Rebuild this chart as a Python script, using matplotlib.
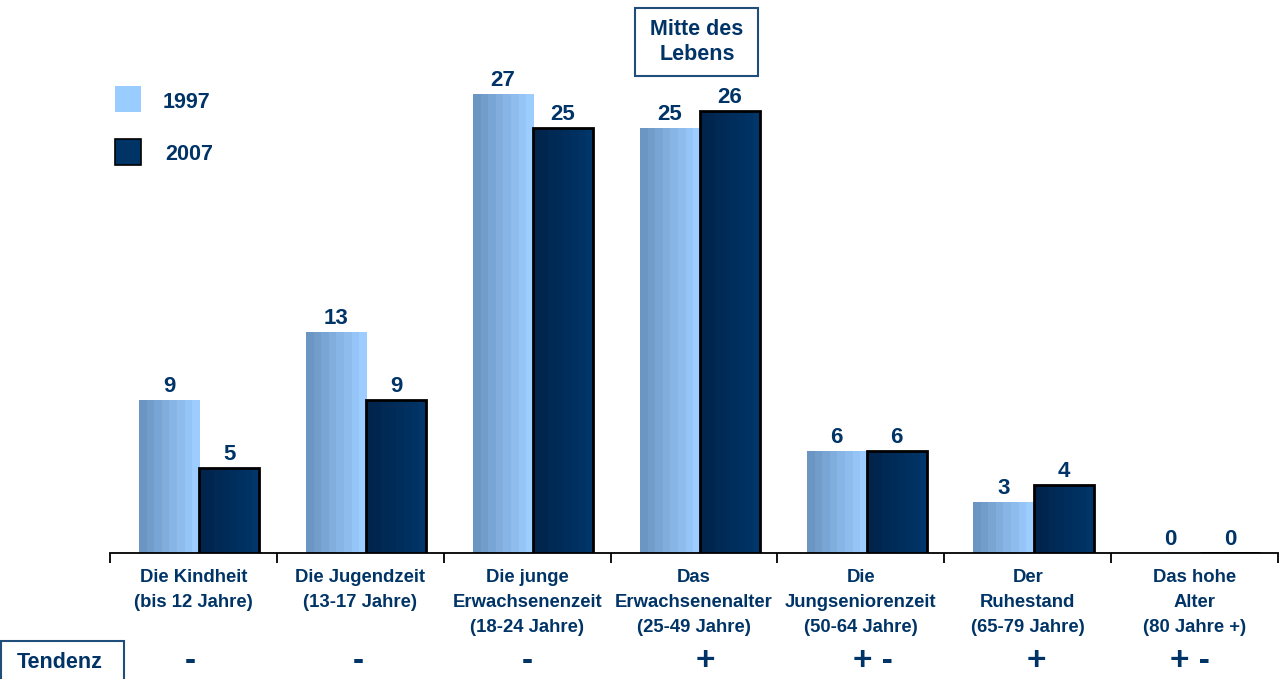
import numpy as np
import matplotlib
matplotlib.use("Agg")
from matplotlib import pyplot as plt
from matplotlib.patches import Rectangle
from matplotlib.colors import LinearSegmentedColormap

plt.rcParams["font.family"] = ["Liberation Sans", "DejaVu Sans"]
plt.rcParams["font.weight"] = "bold"

categories = [
    "Die Kindheit\n(bis 12 Jahre)",
    "Die Jugendzeit\n(13-17 Jahre)",
    "Die junge\nErwachsenenzeit\n(18-24 Jahre)",
    "Das\nErwachsenenalter\n(25-49 Jahre)",
    "Die\nJungseniorenzeit\n(50-64 Jahre)",
    "Der\nRuhestand\n(65-79 Jahre)",
    "Das hohe\nAlter\n(80 Jahre +)",
]
values_1997 = [9, 13, 27, 25, 6, 3, 0]
values_2007 = [5, 9, 25, 26, 6, 4, 0]
tendenz = ["-", "-", "-", "+", "+ -", "+", "+ -"]
tendenz_shift = [-0.02, -0.01, 0.0, 0.07, 0.07, 0.05, -0.03]

TXT = "#003366"
W, H = 1282, 679


def fx(px):
    return px / W


def fy(py):
    return 1 - py / H


fig = plt.figure(figsize=(12.82, 6.79), dpi=100)
ax = fig.add_axes([fx(110), fy(553), fx(1278) - fx(110), fy(0) - fy(553)])

x = np.arange(len(categories))
bw = 0.36
off = 0.035

cmap_light = LinearSegmentedColormap.from_list("l", ["#6b96c3", "#9dcdff"])
cmap_dark = LinearSegmentedColormap.from_list("d", ["#00244c", "#003669"])
grad = np.linspace(0, 1, 8).reshape(1, -1)

bars97 = ax.bar(x + off - bw / 2, values_1997, bw, color="#99ccff", linewidth=0, zorder=2)
bars07 = ax.bar(x + off + bw / 2, values_2007, bw, color="#003366", linewidth=0, zorder=3)

for bars, cm in ((bars97, cmap_light), (bars07, cmap_dark)):
    for b in bars:
        h = b.get_height()
        if h <= 0:
            continue
        x0 = b.get_x()
        im = ax.imshow(grad, cmap=cm, aspect="auto", interpolation="nearest",
                       extent=[x0, x0 + b.get_width(), 0, h], zorder=b.get_zorder() + 0.01)
        im.set_clip_path(b)
    for b in bars:
        ax.text(b.get_x() + b.get_width() / 2, b.get_height() + 0.15, f"{b.get_height():.0f}",
                ha="center", va="bottom", fontsize=16, fontweight="bold", color=TXT)

# black outline of the 2007 bars on top of the gradient
ax.bar(x + off + bw / 2, values_2007, bw, fill=False, edgecolor="black", linewidth=2.0, zorder=4)

ax.set_xlim(-0.5, len(categories) - 0.5)
ax.set_ylim(0, 32.5)

for s in ["top", "right", "left"]:
    ax.spines[s].set_visible(False)
ax.spines["bottom"].set_linewidth(1.3)
ax.set_yticks([])
ax.set_xticks(np.arange(-0.5, len(categories), 1.0))
ax.set_xticklabels([])
ax.tick_params(axis="x", direction="out", length=7, width=1.3, color="black")

for i, lab in enumerate(categories):
    ax.text(i, -0.95, lab, ha="center", va="top", fontsize=13.3, fontweight="bold",
            color=TXT, linespacing=1.6)
    ax.text(i + tendenz_shift[i], -6.4, tendenz[i], ha="center", va="center",
            fontsize=24, fontweight="bold", color=TXT, clip_on=False)

# legend
fig.patches.append(Rectangle((fx(115), fy(112)), fx(26), fy(86) - fy(112),
                             transform=fig.transFigure, facecolor="#99ccff", edgecolor="none"))
fig.patches.append(Rectangle((fx(115), fy(165)), fx(26), fy(139) - fy(165),
                             transform=fig.transFigure, facecolor="#003366", edgecolor="black",
                             linewidth=1.2))
fig.text(fx(163), fy(103), "1997", ha="left", va="center", fontsize=15.5, fontweight="bold", color=TXT)
fig.text(fx(165), fy(155), "2007", ha="left", va="center", fontsize=15.5, fontweight="bold", color=TXT)

# Mitte des Lebens
fig.patches.append(Rectangle((fx(635), fy(76)), fx(123), fy(8) - fy(76),
                             transform=fig.transFigure, facecolor="white", edgecolor="#1f4e7a",
                             linewidth=1.5))
fig.text(fx(697), fy(42), "Mitte des\nLebens", ha="center", va="center", fontsize=15.5,
         fontweight="bold", color=TXT, linespacing=1.25)

# Tendenz
fig.patches.append(Rectangle((fx(1), fy(700)), fx(123), fy(641) - fy(700),
                             transform=fig.transFigure, facecolor="white", edgecolor="#1f4e7a",
                             linewidth=1.5))
fig.text(fx(60), fy(663), "Tendenz", ha="center", va="center", fontsize=15.5,
         fontweight="bold", color=TXT)

fig.savefig("out.png", dpi=100)
